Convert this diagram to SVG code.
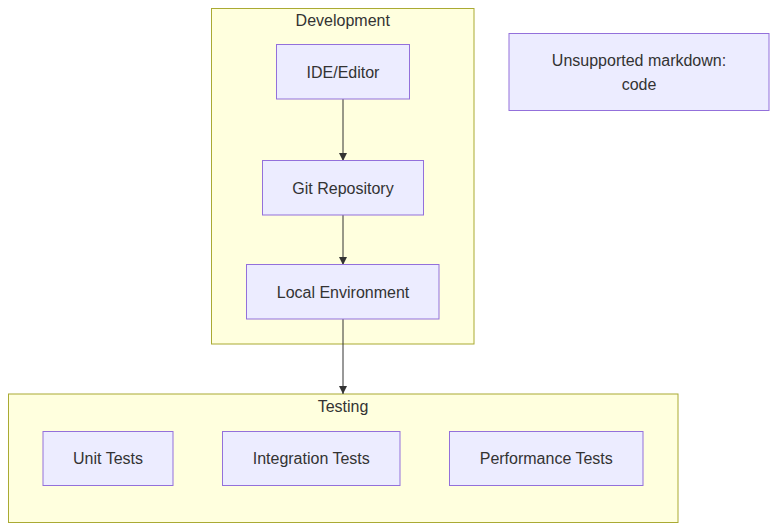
<svg xmlns="http://www.w3.org/2000/svg" width="777" height="531" viewBox="0 0 777 531">
<style>
text{font-family:"Liberation Sans",Arial,sans-serif;font-size:16px;fill:#333;text-anchor:middle;dominant-baseline:central}
.cluster rect{fill:#ffffde;stroke:#aaaa33;stroke-width:1}
.node rect{fill:#ececff;stroke:#9370db;stroke-width:1}
.edge{stroke:#333;stroke-width:1;fill:none}
</style>
<defs>
<marker id="arrow" viewBox="0 0 10 10" refX="10" refY="5" markerWidth="8" markerHeight="8" markerUnits="userSpaceOnUse" orient="auto">
<path d="M0,0 L10,5 L0,10 z" fill="#333"/>
</marker>
</defs>
<rect width="777" height="531" fill="#fff"/>
<g id="cluster-development" class="cluster">
<rect x="211.5" y="8.5" width="262.5" height="335.5"/>
<text x="342.75" y="20">Development</text>
</g>
<g id="cluster-testing" class="cluster">
<rect x="8.5" y="394" width="669.5" height="128.5"/>
<text x="343" y="406">Testing</text>
</g>
<g id="connectors">
<path class="edge" d="M343,99 L343,161" marker-end="url(#arrow)"/>
<path class="edge" d="M343,215 L343,265" marker-end="url(#arrow)"/>
<path class="edge" d="M343,319 L343,394" marker-end="url(#arrow)"/>
</g>
<g id="node-ide" class="node">
<rect x="276.5" y="44.5" width="133" height="54.5"/>
<text x="343" y="72">IDE/Editor</text>
</g>
<g id="node-git" class="node">
<rect x="262.5" y="160.5" width="161" height="54.5"/>
<text x="343" y="188">Git Repository</text>
</g>
<g id="node-local" class="node">
<rect x="246.5" y="264.5" width="192.5" height="54.5"/>
<text x="343" y="292">Local Environment</text>
</g>
<g id="node-unit" class="node">
<rect x="43" y="431.5" width="130" height="54"/>
<text x="108" y="458">Unit Tests</text>
</g>
<g id="node-integration" class="node">
<rect x="222.5" y="431.5" width="177.5" height="54"/>
<text x="311.25" y="458">Integration Tests</text>
</g>
<g id="node-performance" class="node">
<rect x="449.5" y="431.5" width="193.5" height="54"/>
<text x="546.25" y="458">Performance Tests</text>
</g>
<g id="node-unsupported" class="node">
<rect x="509" y="33.5" width="260" height="77"/>
<text x="639" y="60">Unsupported markdown:</text>
<text x="639" y="84">code</text>
</g>
</svg>
